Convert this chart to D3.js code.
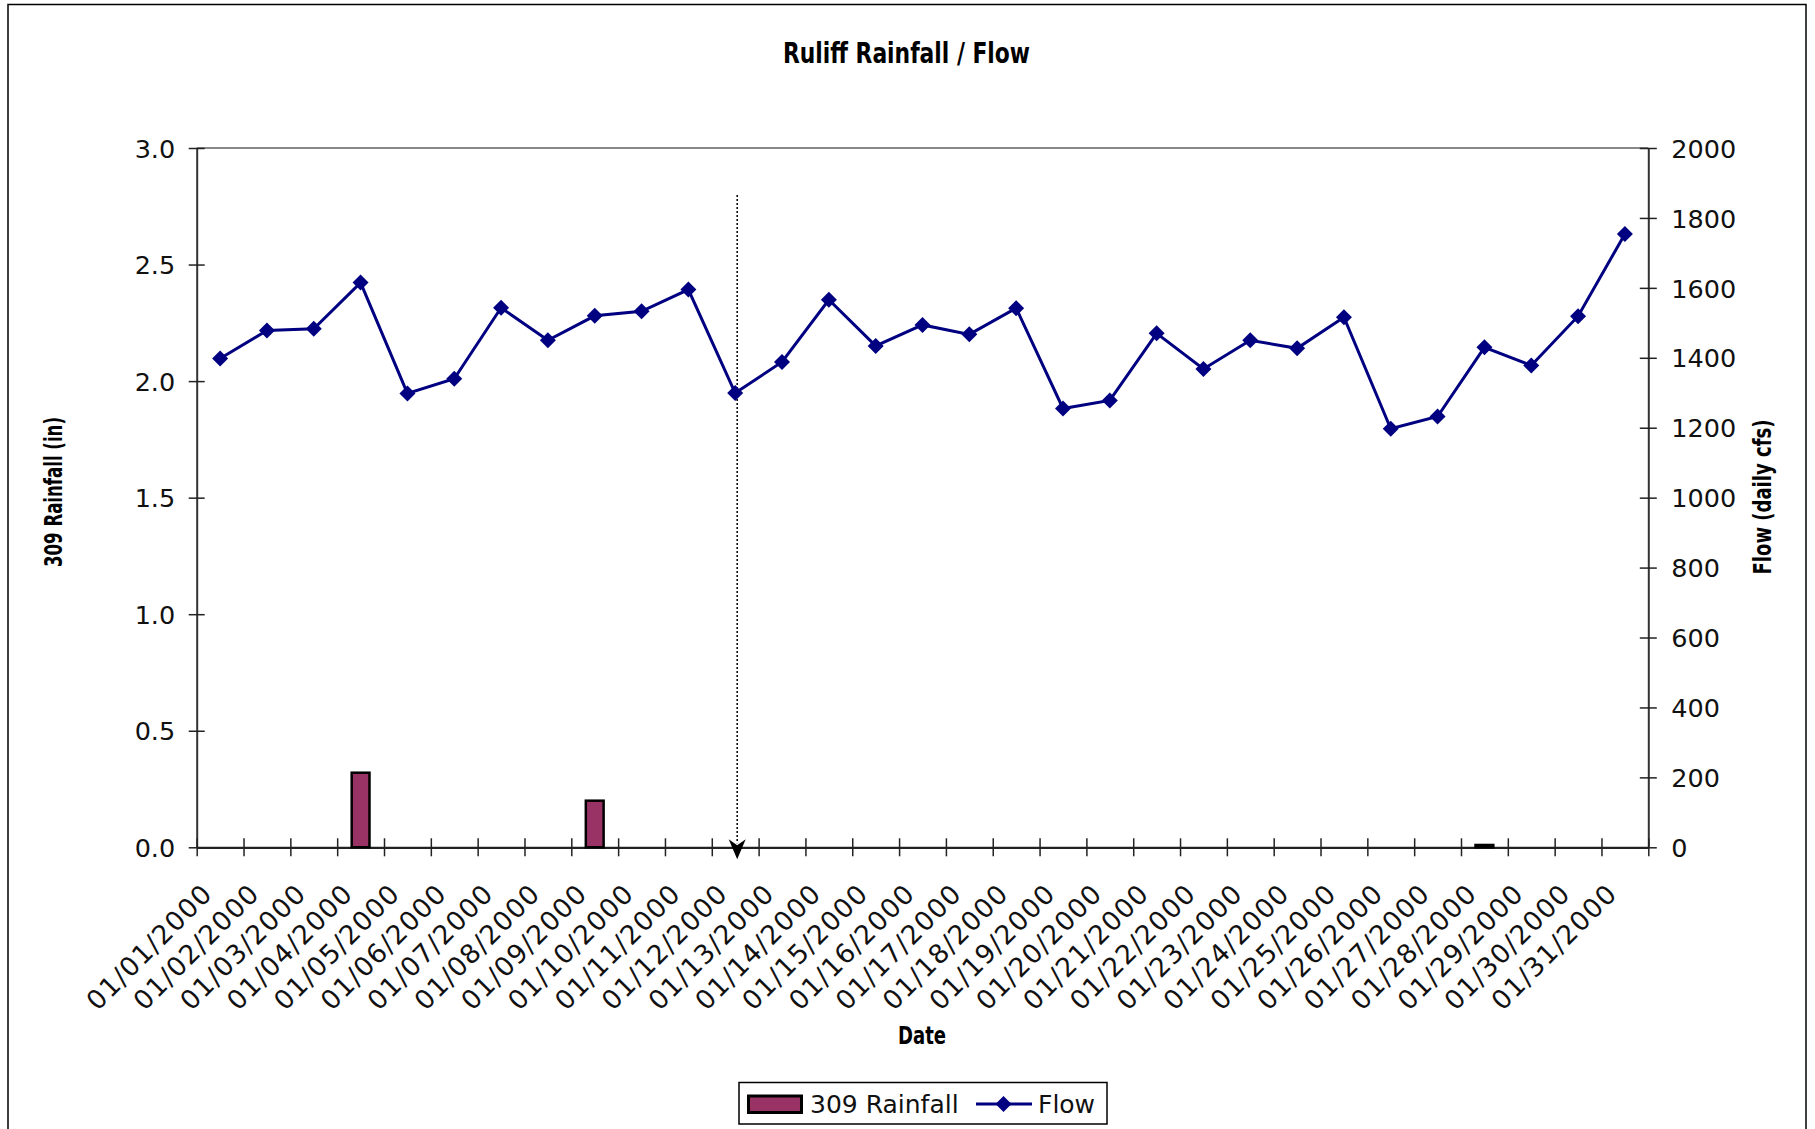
<!DOCTYPE html>
<html>
<head>
<meta charset="utf-8">
<script src="https://cdn.jsdelivr.net/npm/d3@7"></script>
<style>
  html, body { margin: 0; padding: 0; background: #fff; }
  svg { display: block; }
  .tick-label { font-family: "DejaVu Sans", sans-serif; font-size: 25.5px; fill: #111; }
  .bold-narrow { font-family: "Liberation Sans Narrow", "DejaVu Sans Condensed", "Arial Narrow", sans-serif; font-weight: bold; fill: #000; }
</style>
</head>
<body>
<svg id="chart" width="1815" height="1129"></svg>
<script>
// ---- Data ----
const dates = [
  "01/01/2000","01/02/2000","01/03/2000","01/04/2000","01/05/2000","01/06/2000",
  "01/07/2000","01/08/2000","01/09/2000","01/10/2000","01/11/2000","01/12/2000",
  "01/13/2000","01/14/2000","01/15/2000","01/16/2000","01/17/2000","01/18/2000",
  "01/19/2000","01/20/2000","01/21/2000","01/22/2000","01/23/2000","01/24/2000",
  "01/25/2000","01/26/2000","01/27/2000","01/28/2000","01/29/2000","01/30/2000",
  "01/31/2000"
];
const rainfall = [
  0, 0, 0, 0.32, 0, 0,
  0, 0, 0.20, 0, 0, 0,
  0, 0, 0, 0, 0, 0,
  0, 0, 0, 0, 0, 0,
  0, 0, 0, 0.01, 0, 0,
  0
];
const flow = [
  1398, 1478, 1483, 1615, 1298, 1340,
  1543, 1450, 1520, 1533, 1595, 1299,
  1388, 1566, 1434, 1494, 1467, 1542,
  1255, 1278, 1470, 1368, 1450, 1427,
  1516, 1197, 1232, 1430, 1378, 1519,
  1754
];
const rainTicks = [0, 0.5, 1.0, 1.5, 2.0, 2.5, 3.0];
const flowTicks = [0, 200, 400, 600, 800, 1000, 1200, 1400, 1600, 1800, 2000];
const markerDate = "01/12/2000";
const titleText = "Ruliff Rainfall / Flow";
const leftTitle = "309 Rainfall (in)";
const rightTitle = "Flow (daily cfs)";
const xTitle = "Date";
const seriesNames = ["309 Rainfall", "Flow"];

// ---- Layout ----
const plot = { left: 196.7, right: 1648.3, top: 148, bottom: 847.3 };
const barColor = "#993366";
const lineColor = "#000080";

const svg = d3.select("#chart");

// outer frame
svg.append("rect")
  .attr("x", 8).attr("y", 4.5)
  .attr("width", 1798).attr("height", 1140)
  .attr("fill", "none").attr("stroke", "#000").attr("stroke-width", 1.5);

const x = d3.scaleBand().domain(dates).range([plot.left, plot.right]).padding(0);
const xb = d3.scaleLinear().domain([0, dates.length]).range([plot.left, plot.right]);
const yL = d3.scaleLinear().domain([0, 3]).range([plot.bottom, plot.top]);
const yR = d3.scaleLinear().domain([0, 2000]).range([plot.bottom, plot.top]);

// top border of plot area (gray)
svg.append("line")
  .attr("x1", plot.left).attr("x2", plot.right)
  .attr("y1", plot.top).attr("y2", plot.top)
  .attr("stroke", "#888").attr("stroke-width", 2);

// Left axis
const gL = svg.append("g").attr("transform", `translate(${plot.left},0)`)
  .call(d3.axisLeft(yL).tickValues(rainTicks).tickFormat(d3.format(".1f")).tickSizeOuter(0));
gL.select(".domain").attr("stroke", "#333").attr("stroke-width", 2);
gL.selectAll(".tick line").attr("x1", -8).attr("x2", 8).attr("stroke", "#222").attr("stroke-width", 1.5);
gL.selectAll(".tick text").attr("x", -21.5).attr("class", "tick-label").attr("dy", "0.36em")
  .style("font-size", "25.5px");

// Right axis
const gR = svg.append("g").attr("transform", `translate(${plot.right},0)`)
  .call(d3.axisRight(yR).tickValues(flowTicks).tickFormat(d3.format("d")).tickSizeOuter(0));
gR.select(".domain").attr("stroke", "#333").attr("stroke-width", 2);
gR.selectAll(".tick line").attr("x1", -8.5).attr("x2", 8.5).attr("stroke", "#222").attr("stroke-width", 1.5);
gR.selectAll(".tick text").attr("x", 23).attr("class", "tick-label").attr("dy", "0.36em")
  .style("font-size", "25.5px");

// Bottom axis (ticks at category boundaries)
const gB = svg.append("g").attr("transform", `translate(0,${plot.bottom})`)
  .call(d3.axisBottom(xb).tickValues(d3.range(0, dates.length + 1)).tickFormat("").tickSizeOuter(0));
gB.select(".domain").attr("stroke", "#222").attr("stroke-width", 2.2);
gB.selectAll(".tick line").attr("y1", -9).attr("y2", 9).attr("stroke", "#222").attr("stroke-width", 1.5);

// Category labels
svg.append("g").selectAll("text").data(dates).join("text")
  .attr("class", "tick-label")
  .attr("text-anchor", "end")
  .attr("transform", d => `translate(${x(d) + x.bandwidth() / 2 - 6},${plot.bottom + 48}) rotate(-45)`)
  .style("font-size", "26.5px")
  .style("letter-spacing", "1.2px")
  .text(d => d);

// Bars
const barW = x.bandwidth() * 0.38;
svg.append("g").selectAll("rect").data(dates.map((d, i) => ({ d, v: rainfall[i] })).filter(o => o.v > 0))
  .join("rect")
  .attr("x", o => x(o.d) + x.bandwidth() / 2 - barW / 2)
  .attr("y", o => yL(o.v))
  .attr("width", barW)
  .attr("height", o => yL(0) - yL(o.v))
  .attr("fill", barColor)
  .attr("stroke", "#000")
  .attr("stroke-width", 2.5);

// Annotation dotted line with arrow
const mx = x(markerDate) + x.bandwidth() / 2 + 2;
svg.append("line")
  .attr("x1", mx).attr("x2", mx)
  .attr("y1", 195).attr("y2", plot.bottom - 4)
  .attr("stroke", "#000").attr("stroke-width", 1.5)
  .attr("stroke-dasharray", "2,2");
svg.append("path")
  .attr("d", `M${mx - 8.5},${plot.bottom - 8} L${mx},${plot.bottom + 12} L${mx + 8.5},${plot.bottom - 8} L${mx},${plot.bottom - 2} Z`)
  .attr("fill", "#000");

// Flow line
const line = d3.line().x((v, i) => x(dates[i]) + x.bandwidth() / 2).y(v => yR(v));
svg.append("path").datum(flow)
  .attr("d", line)
  .attr("fill", "none").attr("stroke", lineColor).attr("stroke-width", 3);

const diamond = "M0,-8L8,0L0,8L-8,0Z";
svg.append("g").selectAll("path").data(flow).join("path")
  .attr("d", diamond)
  .attr("transform", (v, i) => `translate(${x(dates[i]) + x.bandwidth() / 2},${yR(v)})`)
  .attr("fill", lineColor);

// Titles
svg.append("text").attr("class", "bold-narrow")
  .attr("x", 906.5).attr("y", 63).attr("text-anchor", "middle")
  .attr("textLength", 247).attr("lengthAdjust", "spacingAndGlyphs")
  .style("font-size", "29px").text(titleText);

svg.append("text").attr("class", "bold-narrow")
  .attr("text-anchor", "middle")
  .attr("transform", `translate(${62},${492}) rotate(-90)`)
  .attr("textLength", 150).attr("lengthAdjust", "spacingAndGlyphs")
  .style("font-size", "24px").text(leftTitle);

svg.append("text").attr("class", "bold-narrow")
  .attr("text-anchor", "middle")
  .attr("transform", `translate(${1771},${497}) rotate(-90)`)
  .attr("textLength", 155).attr("lengthAdjust", "spacingAndGlyphs")
  .style("font-size", "25px").text(rightTitle);

svg.append("text").attr("class", "bold-narrow")
  .attr("text-anchor", "middle")
  .attr("x", 922).attr("y", 1044)
  .attr("textLength", 48).attr("lengthAdjust", "spacingAndGlyphs")
  .style("font-size", "25px").text(xTitle);

// Legend
const lg = svg.append("g");
lg.append("rect").attr("x", 739).attr("y", 1082.5).attr("width", 368).attr("height", 41.5)
  .attr("fill", "#fff").attr("stroke", "#000").attr("stroke-width", 1.5);
lg.append("rect").attr("x", 748.5).attr("y", 1096).attr("width", 53).attr("height", 16.5)
  .attr("fill", barColor).attr("stroke", "#000").attr("stroke-width", 3);
lg.append("text").attr("class", "tick-label").attr("x", 810).attr("y", 1113)
  .style("font-size", "25px").text(seriesNames[0]);
lg.append("line").attr("x1", 976).attr("x2", 1032).attr("y1", 1104).attr("y2", 1104)
  .attr("stroke", lineColor).attr("stroke-width", 3);
lg.append("path").attr("d", diamond).attr("transform", "translate(1003.5,1104)").attr("fill", lineColor);
lg.append("text").attr("class", "tick-label").attr("x", 1038).attr("y", 1113)
  .style("font-size", "25px").text(seriesNames[1]);
</script>
</body>
</html>
